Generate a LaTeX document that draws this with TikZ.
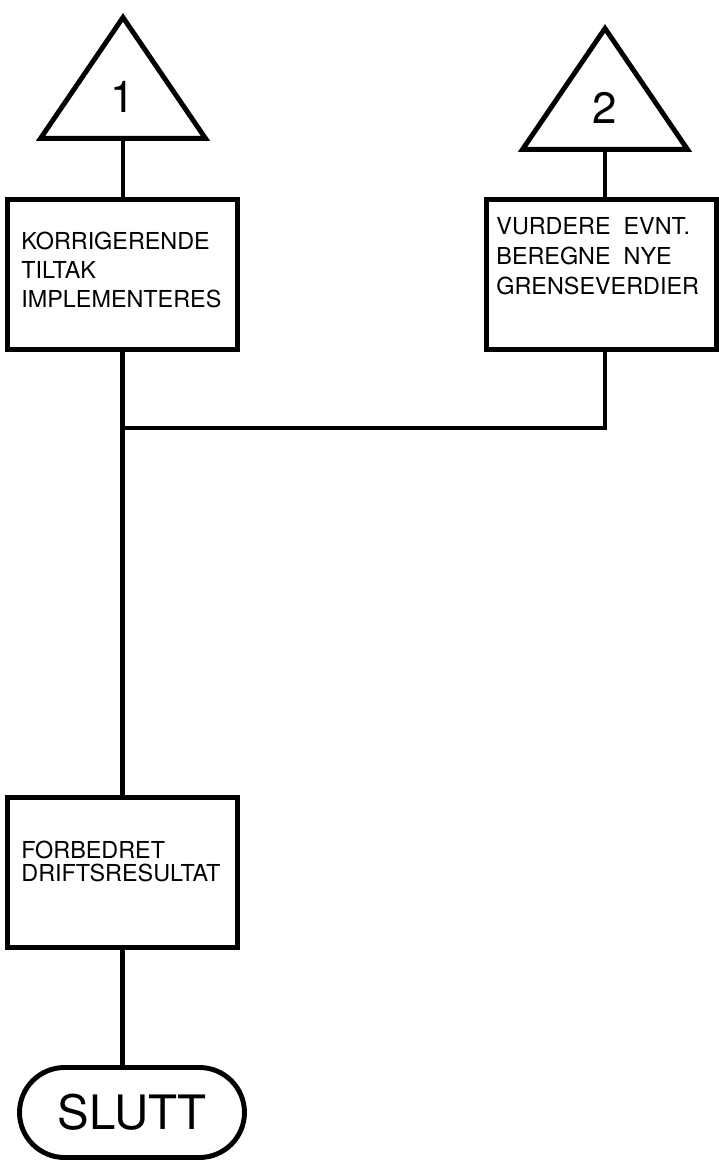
\documentclass[tikz,border=0pt]{standalone}
\usepackage{fontspec}
\setmainfont{TeX Gyre Heros}
\usetikzlibrary{positioning,shapes.geometric,shapes.misc}

\begin{document}
\begin{tikzpicture}[x=0.02cm, y=-0.02cm, every node/.style={font=\fontsize{13.3}{16.5}\selectfont}]
\tikzset{proc/.style={draw, line width=2.8pt, minimum width=4.6cm, minimum height=3.0cm, inner sep=0pt}}
\tikzset{conn/.style={draw, isosceles triangle, isosceles triangle stretches, shape border rotate=90, line width=2.8pt, minimum width=3.3cm, minimum height=2.42cm, inner sep=0pt, font=\fontsize{25}{25}\selectfont}}
\tikzset{term/.style={draw, rounded rectangle, line width=2.8pt, minimum width=4.5cm, minimum height=1.8cm, inner sep=0pt, font=\fontsize{27}{27}\selectfont}}
\tikzset{txt/.style={inner sep=0pt, align=left}}
\tikzset{wire/.style={line width=2.4pt}}

\useasboundingbox (0,0) rectangle (719,1164);

% Connectors in from the previous page
\node[conn, anchor=apex] (con1) at (123,11) {1};
\node[conn, anchor=apex] (con2) at (605,22) {2};

% Process boxes
\node[proc] (korr) at (122.5,274.5) {};
\node[proc] (vurd) at (601.5,274.5) {};
\node[proc] (forb) at (122.5,872.5) {};
\node[txt, below right=0.7cm and 0.32cm of korr.north west] (korrtxt) {KORRIGERENDE\\TILTAK\\IMPLEMENTERES};
\node[txt, below right=0.4cm and 0.24cm of vurd.north west, font=\fontsize{13.3}{17}\selectfont] (vurdtxt) {VURDERE\ \ EVNT.\\BEREGNE\ \ NYE\\GRENSEVERDIER};
\node[txt, below right=0.92cm and 0.32cm of forb.north west, font=\fontsize{13.3}{12.8}\selectfont] (forbtxt) {FORBEDRET\\DRIFTSRESULTAT};

% End
\node[term] (slutt) at (132,1112.5) {SLUTT};

% Lines
\coordinate (join) at (122.5,428);
\draw[wire] (con1.lower side) -- (con1.lower side |- korr.north);
\draw[wire] (con2.lower side) -- (con2.lower side |- vurd.north);
\draw[wire] (vurd.south -| con2.lower side) |- (join);
\draw[wire] (korr) -- (forb);
\draw[wire] (forb) -- (forb.south |- slutt.north);
\end{tikzpicture}
\end{document}
